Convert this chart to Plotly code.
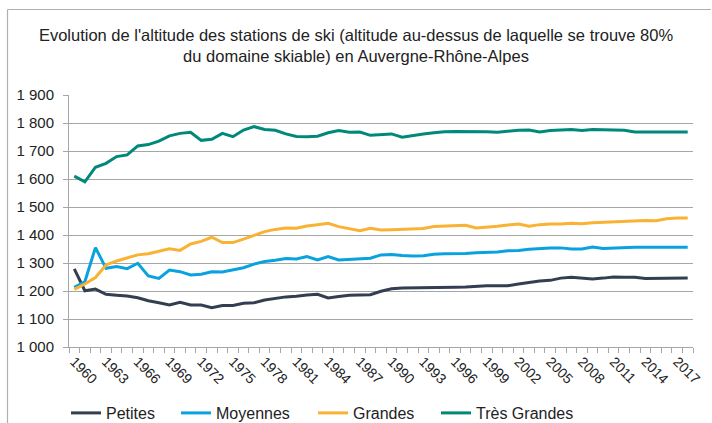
import plotly.graph_objects as go

# Years shown on the category axis
years = list(range(1960, 2019))

# Altitude (m) above which 80% of the ski area lies, by station size
petites = [1279, 1201, 1207, 1188, 1185, 1182, 1176, 1165, 1158, 1150,
           1160, 1150, 1150, 1140, 1148, 1148, 1156, 1158, 1168, 1174,
           1179, 1181, 1186, 1188, 1175, 1180, 1185, 1186, 1187, 1199,
           1208, 1211, 1211, 1211, 1211, 1211, 1213, 1214, 1217, 1219,
           1219, 1219, 1225, 1230, 1236, 1238, 1246, 1249, 1245, 1243,
           1246, 1250, 1249, 1249, 1245, 1245, 1246, 1246, 1246]
moyennes = [1213, 1233, 1355, 1281, 1287, 1280, 1299, 1254, 1245, 1275,
            1269, 1257, 1260, 1269, 1268, 1276, 1283, 1296, 1305, 1310,
            1316, 1314, 1323, 1311, 1323, 1311, 1313, 1317, 1317, 1329,
            1330, 1327, 1325, 1326, 1331, 1333, 1333, 1334, 1337, 1337,
            1339, 1344, 1345, 1349, 1352, 1354, 1354, 1350, 1350, 1357,
            1352, 1354, 1355, 1356, 1356, 1356, 1356, 1356, 1356]
grandes = [1206, 1225, 1248, 1293, 1307, 1317, 1329, 1333, 1343, 1351,
           1345, 1368, 1377, 1392, 1373, 1373, 1385, 1399, 1412, 1420,
           1425, 1424, 1432, 1437, 1442, 1430, 1423, 1415, 1424, 1418,
           1419, 1420, 1421, 1423, 1430, 1432, 1435, 1435, 1425, 1427,
           1431, 1436, 1439, 1431, 1437, 1439, 1439, 1442, 1440, 1444,
           1446, 1448, 1449, 1450, 1452, 1451, 1458, 1461, 1461]
tres_grandes = [1610, 1590, 1642, 1656, 1680, 1686, 1718, 1723, 1735, 1754,
                1763, 1767, 1738, 1742, 1763, 1751, 1775, 1787, 1777, 1774,
                1761, 1752, 1751, 1753, 1765, 1773, 1767, 1768, 1756, 1758,
                1761, 1749, 1756, 1761, 1765, 1769, 1770, 1770, 1770, 1769,
                1767, 1771, 1774, 1775, 1768, 1773, 1775, 1777, 1773, 1777,
                1776, 1775, 1774, 1768, 1768, 1768, 1770, 1769, 1768]

series_names = ["Petites", "Moyennes", "Grandes", "Très Grandes"]
series_colors = ["#333F50", "#0AA2DE", "#F9B234", "#00897A"]

y_tickvals = [1000, 1100, 1200, 1300, 1400, 1500, 1600, 1700, 1800, 1900]
y_ticktext = ["1 000", "1 100", "1 200", "1 300", "1 400",
              "1 500", "1 600", "1 700", "1 800", "1 900"]

FONT = "Liberation Sans, Arial, sans-serif"
GRID = "#A6A6A6"
TEXT = "#222222"

# Plot-area geometry in pixels
W, H = 712, 423
L, R, T, B = 69, 19, 95, 76
PW, PH = W - L - R, H - T - B

def px_x(px):
    return (px - L) / PW

def px_y(py):
    return (H - B - py) / PH

idx = list(range(len(years)))
x_tickvals = idx[::3]
x_ticktext = [str(years[i]) for i in x_tickvals]

# Left pixel edge of each legend entry
legend_left = [66, 176, 313, 436]
legend_ids = ["legend", "legend2", "legend3", "legend4"]

fig = go.Figure()
for name, vals, col, lid in zip(series_names, [petites, moyennes, grandes, tres_grandes],
                                series_colors, legend_ids):
    fig.add_trace(go.Scatter(x=idx, y=vals, name=name, mode="lines",
                             line=dict(color=col, width=3), legend=lid,
                             hovertext=[str(y) for y in years]))

layout_legends = {}
for lid, lx in zip(legend_ids, legend_left):
    layout_legends[lid] = dict(orientation="h", x=px_x(lx), xanchor="left",
                               y=px_y(413), yanchor="middle",
                               font=dict(family=FONT, size=16, color=TEXT),
                               itemwidth=30, bgcolor="rgba(0,0,0,0)")

# Thin frame around the whole chart
frame = [
    dict(type="line", xref="paper", yref="paper", x0=px_x(7.5), x1=px_x(711), y0=px_y(9.5), y1=px_y(9.5)),
    dict(type="line", xref="paper", yref="paper", x0=px_x(7.5), x1=px_x(7.5), y0=px_y(9.5), y1=px_y(423)),
]
for s in frame:
    s["line"] = dict(color="#B0B0B0", width=1.2)
    s["layer"] = "above"

fig.update_layout(
    width=W, height=H,
    margin=dict(l=L, r=R, t=T, b=B, autoexpand=False),
    paper_bgcolor="white", plot_bgcolor="white",
    font=dict(family=FONT, size=15, color=TEXT),
    title=dict(text="Evolution de l'altitude des stations de ski (altitude au-dessus de laquelle se trouve 80%<br>du domaine skiable) en Auvergne-Rhône-Alpes",
               x=0.5, xanchor="center", y=0.904, yanchor="top",
               font=dict(family=FONT, size=16.5, color=TEXT, lineposition="none")),
    showlegend=True,
    shapes=frame,
    **layout_legends,
)

fig.update_xaxes(range=[-0.5, len(years) - 0.5], tickmode="array",
                 tickvals=x_tickvals, ticktext=x_ticktext, tickangle=45,
                 ticks="", showgrid=False, showline=True, linecolor=GRID, linewidth=1,
                 tickfont=dict(family=FONT, size=14, color=TEXT),
                 zeroline=False, automargin=False,
                 minor=dict(tickmode="linear", tick0=-0.5, dtick=1, ticks="outside",
                            ticklen=5, tickcolor=GRID, tickwidth=1, showgrid=False))
fig.update_yaxes(range=[1000, 1900], tickmode="array", tickvals=y_tickvals, ticktext=y_ticktext,
                 ticks="outside", ticklen=5, tickcolor=GRID, showline=True, linecolor=GRID,
                 showgrid=True, gridcolor=GRID, gridwidth=1, zeroline=False, automargin=False,
                 ticklabelstandoff=6,
                 tickfont=dict(family=FONT, size=15, color=TEXT))

fig.write_html("out.html")
